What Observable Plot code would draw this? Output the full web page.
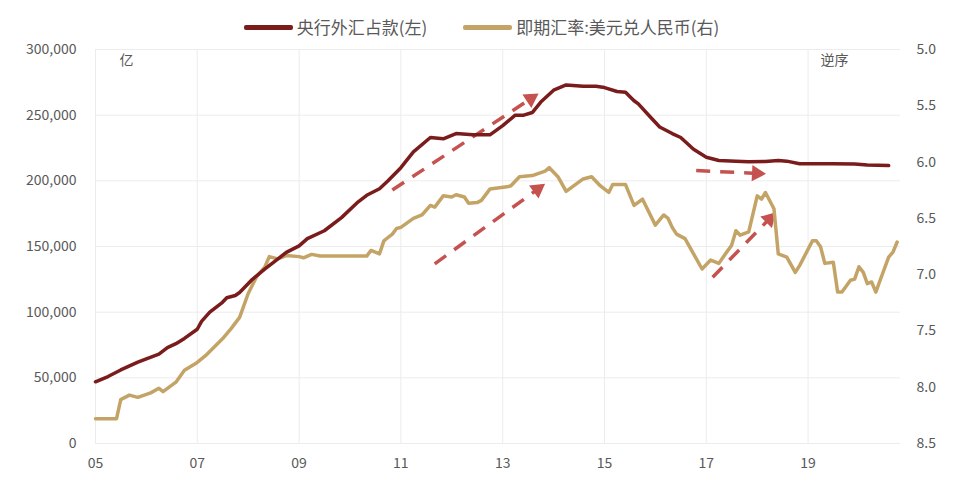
<!DOCTYPE html>
<html><head><meta charset="utf-8">
<script src="https://cdn.jsdelivr.net/npm/d3@7"></script>
<script src="https://cdn.jsdelivr.net/npm/@observablehq/plot@0.6"></script>
<style>
html,body{margin:0;padding:0;background:#fff;}
body{font-family:"Noto Sans CJK SC","Noto Sans",sans-serif;width:963px;height:495px;overflow:hidden;}
#legend{box-sizing:border-box;height:40px;display:flex;justify-content:center;align-items:flex-start;gap:36px;font-size:17px;color:#595959;}
#legend .item{display:flex;align-items:center;margin-top:17px;height:20px;line-height:20px;}
#legend .sw{display:inline-block;width:49px;height:5px;margin-right:4px;border-radius:2px;}
</style></head><body>
<div id="legend"></div><div id="chart"></div>
<script>
// ---- data ----
const seriesNames = ["央行外汇占款(左)", "即期汇率:美元兑人民币(右)"];
const seriesColors = ["#7b1c1c", "#c4a466"];

const fxDates = ["2005-01","2005-04","2005-07","2005-11","2006-01","2006-04","2006-06","2006-08","2006-10","2007-01","2007-02","2007-04","2007-07","2007-08","2007-10","2007-11","2008-02","2008-05","2008-07","2008-10","2009-01","2009-03","2009-07","2009-11","2010-03","2010-05","2010-08","2010-10","2011-01","2011-04","2011-08","2011-11","2012-02","2012-06","2012-10","2013-01","2013-04","2013-06","2013-08","2013-10","2014-01","2014-04","2014-08","2014-11","2015-01","2015-04","2015-06","2015-08","2015-09","2015-12","2016-02","2016-05","2016-07","2016-10","2017-01","2017-04","2017-08","2017-11","2018-03","2018-06","2018-08","2018-11","2019-03","2019-07","2019-12","2020-03","2020-08"];
const fxValues = [47000,51000,56000,62000,64500,68000,73000,76000,80000,87000,93000,100000,107500,111000,112700,115000,125000,133000,138000,145500,150500,156000,162000,172000,184000,189000,194000,200000,210000,222000,233000,232000,236000,235000,235000,242000,250000,250000,252000,260000,269000,273000,272000,272000,271000,268000,267500,261000,258600,248000,241000,236000,233000,224000,218000,215500,215000,214500,214800,215500,215000,213000,213000,213000,212800,212000,211600];

const rateDates = ["2005-01","2005-06","2005-07","2005-09","2005-11","2006-02","2006-04","2006-05","2006-08","2006-10","2007-01","2007-03","2007-05","2007-07","2007-09","2007-11","2008-01","2008-03","2008-05","2008-06","2008-08","2008-10","2009-01","2009-02","2009-04","2009-06","2010-05","2010-06","2010-08","2010-09","2010-10","2010-11","2010-12","2011-01","2011-04","2011-06","2011-08","2011-09","2011-11","2012-01","2012-02","2012-04","2012-05","2012-07","2012-08","2012-10","2013-02","2013-03","2013-05","2013-08","2013-11","2013-12","2014-02","2014-04","2014-08","2014-10","2014-12","2015-02","2015-03","2015-06","2015-08","2015-10","2016-01","2016-03","2016-04","2016-05","2016-06","2016-08","2016-12","2017-02","2017-04","2017-05","2017-07","2017-08","2017-09","2017-11","2018-01","2018-02","2018-03","2018-05","2018-06","2018-08","2018-10","2018-11","2019-02","2019-03","2019-04","2019-05","2019-07","2019-08","2019-09","2019-11","2019-12","2020-01","2020-02","2020-03","2020-04","2020-05","2020-06","2020-08","2020-09","2020-10"];
const rateValues = [8.28,8.28,8.11,8.07,8.09,8.05,8.01,8.04,7.955,7.85,7.78,7.72,7.645,7.57,7.48,7.38,7.17,7.02,6.93,6.84,6.86,6.83,6.84,6.85,6.82,6.835,6.835,6.785,6.815,6.70,6.67,6.64,6.59,6.58,6.50,6.47,6.385,6.40,6.30,6.31,6.29,6.31,6.365,6.36,6.34,6.24,6.22,6.21,6.13,6.12,6.08,6.05,6.13,6.26,6.15,6.13,6.21,6.27,6.20,6.20,6.385,6.33,6.56,6.47,6.50,6.58,6.64,6.68,6.95,6.87,6.90,6.845,6.74,6.61,6.65,6.62,6.30,6.33,6.27,6.415,6.815,6.845,6.98,6.92,6.70,6.70,6.755,6.90,6.89,7.155,7.155,7.05,7.04,6.93,6.98,7.08,7.065,7.155,7.05,6.845,6.80,6.71];

const leftTicks = [0,50000,100000,150000,200000,250000,300000];
const rightTicks = [5.0,5.5,6.0,6.5,7.0,7.5,8.0,8.5];
const xTickYears = ["2005","2007","2009","2011","2013","2015","2017","2019"];

// annotation arrows (date, left-axis value)
const arrowStartDates = ["2010-11-01","2011-09-01","2016-10-20","2017-02-15"];
const arrowStartValues = [193000,136800,207900,126600];
const arrowEndDates = ["2013-09-15","2013-11-01","2018-03-05","2018-05-15"];
const arrowEndValues = [266500,197700,205300,176100];

// ---- build ----
const W = 963, H = 455, mT = 9, mB = 52, mL = 95, mR = 63;
const pm = d3.utcParse("%Y-%m"), pd = d3.utcParse("%Y-%m-%d"), py = d3.utcParse("%Y");
const xDomain = [pm("2005-01"), pd("2020-10-25")];
const toLeft = r => (8.5 - r) / 3.5 * 300000;
const fromLeft = v => 8.5 - v / 300000 * 3.5;

const fx = fxDates.map((d, i) => ({date: pm(d), value: fxValues[i]}));
const rate = rateDates.map((d, i) => ({date: pm(d), value: toLeft(rateValues[i])}));

const xs = Plot.scale({x: {type: "utc", domain: xDomain, range: [mL, W - mR]}});
const ys = Plot.scale({y: {type: "linear", domain: [0, 300000], range: [H - mB, mT]}});

const shafts = [], heads = [];
const L = 14, hy = L / 3;
arrowStartDates.forEach((s, i) => {
  const x1 = xs.apply(pd(s)), y1 = ys.apply(arrowStartValues[i]);
  const x2 = xs.apply(pd(arrowEndDates[i])), y2 = ys.apply(arrowEndValues[i]);
  const th = Math.atan2(y2 - y1, x2 - x1);
  const ex = x2 - (L - 1) * Math.cos(th), ey = y2 - (L - 1) * Math.sin(th);
  const cx = x2 - 2 * hy * Math.cos(th), cy = y2 - 2 * hy * Math.sin(th);
  shafts.push({x1: xs.invert(x1), y1: ys.invert(y1), x2: xs.invert(ex), y2: ys.invert(ey)});
  heads.push({x: xs.invert(cx), y: ys.invert(cy), rot: th * 180 / Math.PI + 90});
});
const headR = Math.sqrt(hy * hy * 3 * Math.sqrt(3) / Math.PI);

const arrowColor = "#c5524f";
const textColor = "#595959";

const chart = Plot.plot({
  width: W, height: H,
  marginTop: mT, marginBottom: mB, marginLeft: mL, marginRight: mR,
  style: {fontFamily: '"Noto Sans CJK SC","Noto Sans",sans-serif', fontSize: "14px", color: textColor, background: "#fff", overflow: "visible"},
  x: {type: "utc", domain: xDomain},
  y: {domain: [0, 300000]},
  marks: [
    Plot.gridY(leftTicks, {stroke: "#ececec", strokeOpacity: 1}),
    Plot.gridX(xTickYears.map(py), {stroke: "#ececec", strokeOpacity: 1}),
    Plot.axisY(leftTicks, {anchor: "left", tickSize: 0, tickPadding: 19, tickFormat: d3.format(","), fill: textColor, fontSize: 14}),
    Plot.axisY(rightTicks.map(toLeft), {anchor: "right", tickSize: 0, tickPadding: 16, tickFormat: v => fromLeft(v).toFixed(1), fill: textColor, fontSize: 14}),
    Plot.axisX(xTickYears.map(py), {anchor: "bottom", tickSize: 0, tickPadding: 15, tickFormat: d3.utcFormat("%y"), fill: textColor, fontSize: 14}),
    Plot.link(shafts, {x1: "x1", y1: "y1", x2: "x2", y2: "y2", stroke: arrowColor, strokeWidth: 3.5, strokeDasharray: "14,10"}),
    Plot.dot(heads, {x: "x", y: "y", symbol: "triangle", r: headR, rotate: "rot", fill: arrowColor, stroke: "none"}),
    Plot.line(rate, {x: "date", y: "value", stroke: seriesColors[1], strokeWidth: 3.5, curve: "linear"}),
    Plot.line(fx, {x: "date", y: "value", stroke: seriesColors[0], strokeWidth: 3.5, curve: "linear"}),
    Plot.text(["亿"], {frameAnchor: "top-left", dx: 24, dy: 6, fill: textColor, fontSize: 14}),
    Plot.text(["逆序"], {frameAnchor: "top-right", dx: -52, dy: 6, fill: textColor, fontSize: 14})
  ]
});
document.getElementById("chart").appendChild(chart);

const lg = document.getElementById("legend");
seriesNames.forEach((n, i) => {
  const it = document.createElement("div"); it.className = "item";
  const sw = document.createElement("span"); sw.className = "sw"; sw.style.background = seriesColors[i];
  const tx = document.createElement("span"); tx.textContent = n;
  it.appendChild(sw); it.appendChild(tx); lg.appendChild(it);
});
</script></body></html>
